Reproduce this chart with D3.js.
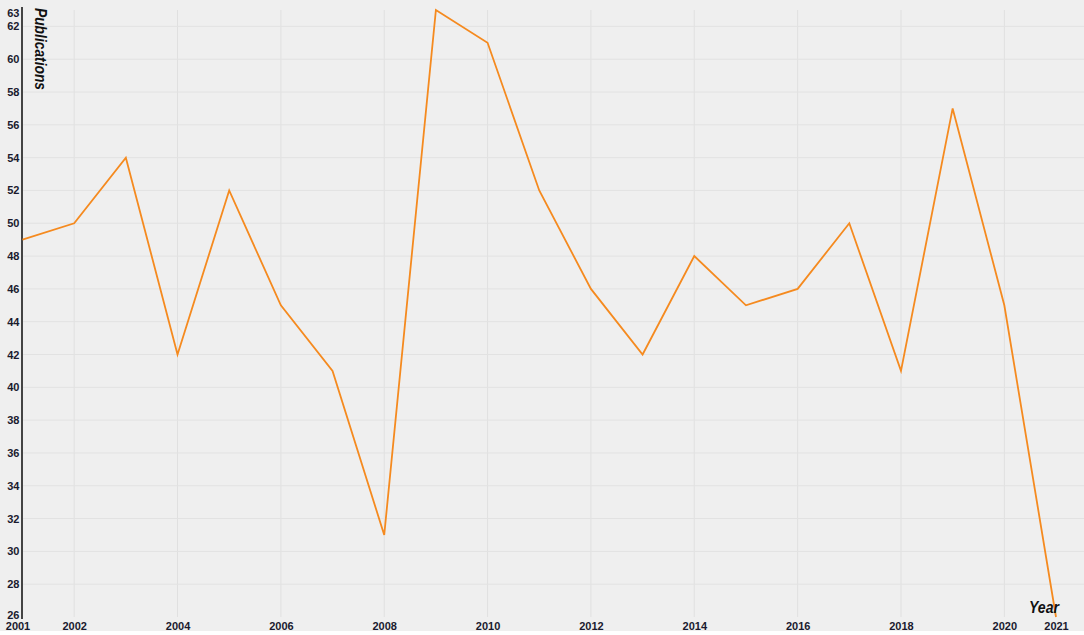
<!DOCTYPE html>
<meta charset="utf-8">
<html>
<head>
<title>Publications per year</title>
<style>
  html, body { margin: 0; padding: 0; background: #fff; }
  #chart svg { display: block; }
  .tick text { font-family: Arial, "Liberation Sans", sans-serif; font-weight: bold; font-size: 11px; fill: #1a1a2e; }
  .axis-title { font-family: Arial, "Liberation Sans", sans-serif; font-weight: bold; font-style: italic; font-size: 16px; fill: #111; }
</style>
</head>
<body>
<div id="chart"></div>
<script src="https://d3js.org/d3.v7.min.js"></script>
<script>
// data
var years = [2001, 2002, 2003, 2004, 2005, 2006, 2007, 2008, 2009, 2010,
             2011, 2012, 2013, 2014, 2015, 2016, 2017, 2018, 2019, 2020, 2021];
var publications = [49, 50, 54, 42, 52, 45, 41, 31, 63, 61,
                    52, 46, 42, 48, 45, 46, 50, 41, 57, 45, 26];
var xTickValues = [2001, 2002, 2004, 2006, 2008, 2010, 2012, 2014, 2016, 2018, 2020, 2021];
var yTickValues = [26, 28, 30, 32, 34, 36, 38, 40, 42, 44, 46, 48, 50, 52, 54, 56, 58, 60, 62, 63];

var W = 1084, H = 635;
var margin = {top: 10, right: 28, bottom: 18, left: 22.5};

var svg = d3.select("#chart").append("svg")
    .attr("width", W)
    .attr("height", H);

// panel background
svg.append("rect")
    .attr("width", W).attr("height", H - 4)
    .attr("fill", "#efefef");

var x = d3.scaleLinear()
    .domain([2001, 2021])
    .range([margin.left, W - margin.right]);

var y = d3.scaleLinear()
    .domain([26, 63])
    .range([H - margin.bottom, margin.top]);

// grid
svg.append("g")
  .selectAll("line.vg")
  .data(xTickValues.filter(function(d) { return d % 2 == 0; }))
  .enter().append("line")
    .attr("x1", function(d) { return x(d); })
    .attr("x2", function(d) { return x(d); })
    .attr("y1", y(63)).attr("y2", y(26))
    .attr("stroke", "#e0e0e0").attr("stroke-width", 1);

svg.append("g")
  .selectAll("line.hg")
  .data(yTickValues.filter(function(d) { return d % 2 == 0 && d > 26; }))
  .enter().append("line")
    .attr("x1", x(2001)).attr("x2", W)
    .attr("y1", function(d) { return y(d); })
    .attr("y2", function(d) { return y(d); })
    .attr("stroke", "#e2e2e2").attr("stroke-width", 1);

// x axis labels
var xAxis = svg.append("g")
    .attr("transform", "translate(0," + (H - margin.bottom) + ")")
    .call(d3.axisBottom(x).tickValues(xTickValues).tickFormat(d3.format("d")).tickSize(0).tickPadding(5));
xAxis.select(".domain").remove();
xAxis.selectAll(".tick").filter(function(d) { return d == 2001; })
    .select("text").attr("dx", -5);

// y axis labels
var yAxis = svg.append("g")
    .attr("transform", "translate(" + (margin.left - 2) + ",0)")
    .call(d3.axisLeft(y).tickValues(yTickValues).tickSize(0).tickPadding(1));
yAxis.select(".domain").remove();
yAxis.selectAll(".tick").filter(function(d) { return d == 63; })
    .select("text").attr("dy", "0.6em");
yAxis.selectAll(".tick").filter(function(d) { return d == 26; })
    .select("text").attr("dy", "0.1em");

// y axis line
svg.append("line")
    .attr("x1", x(2001) - 0.5).attr("x2", x(2001) - 0.5)
    .attr("y1", y(63) - 3).attr("y2", y(26) + 2)
    .attr("stroke", "#444").attr("stroke-width", 2);

// series line
var line = d3.line()
    .x(function(d, i) { return x(years[i]); })
    .y(function(d) { return y(d); });

svg.append("path")
    .datum(publications)
    .attr("fill", "none")
    .attr("stroke", "#f58a1f")
    .attr("stroke-width", 1.8)
    .attr("stroke-linejoin", "miter")
    .attr("d", line);

// axis titles
svg.append("text")
    .attr("class", "axis-title")
    .attr("transform", "translate(35,8) rotate(90)")
    .attr("textLength", 82)
    .attr("lengthAdjust", "spacingAndGlyphs")
    .text("Publications");

svg.append("text")
    .attr("class", "axis-title")
    .attr("x", 1029)
    .attr("y", 613)
    .attr("textLength", 30)
    .attr("lengthAdjust", "spacingAndGlyphs")
    .text("Year");
</script>
</body>
</html>
